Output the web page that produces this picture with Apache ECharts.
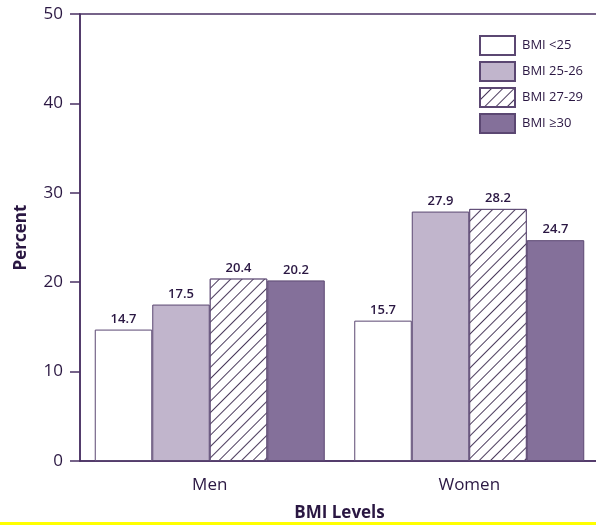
<!DOCTYPE html>
<html>
<head>
<meta charset="utf-8">
<script src="https://cdn.jsdelivr.net/npm/echarts@6/dist/echarts.min.js"></script>
<style>
html,body{margin:0;padding:0;background:#fff;}
#c{width:596px;height:525px;}
</style>
</head>
<body>
<div id="c"></div>
<script>
var categories = ['Men', 'Women'];
var seriesNames = ['BMI <25', 'BMI 25-26', 'BMI 27-29', 'BMI \u226530'];
var bmiUnder25 = [14.7, 15.7];
var bmi25to26 = [17.5, 27.9];
var bmi27to29 = [20.4, 28.2];
var bmi30plus = [20.2, 24.7];
var yTicks = [0, 10, 20, 30, 40, 50];

var FONT = '"Open Sans", sans-serif';
var TXT = '#2a1742';
var AX = '#4a3163';
var BORDER = '#5b4772';

var chart = echarts.init(document.getElementById('c'), null, {renderer: 'canvas'});

function mk(name, data, color, decal) {
  var s = {
    name: name,
    type: 'bar',
    data: data,
    barWidth: 57.5,
    barGap: '0%',
    itemStyle: {color: color, borderColor: BORDER, borderWidth: 1},
    label: {
      show: true, position: 'top', distance: 4,
      fontFamily: FONT, fontSize: 13, fontWeight: 600, color: TXT,
      formatter: function (p) { return p.value.toFixed(1); }
    }
  };
  if (decal) s.itemStyle.decal = decal;
  return s;
}

var hatch = {
  symbol: 'rect', symbolSize: 1,
  color: '#4a3a5c', backgroundColor: '#ffffff',
  dashArrayX: [1, 0], dashArrayY: [1, 7],
  rotation: -Math.PI / 4
};

chart.setOption({
  animation: false,
  backgroundColor: '#ffffff',
  textStyle: {fontFamily: FONT},
  grid: {
    left: 80, top: 14, bottom: 64, right: -3,
    containLabel: false, outerBoundsMode: 'none',
    show: true, borderColor: AX, borderWidth: 1.5, backgroundColor: 'transparent'
  },
  legend: {
    orient: 'vertical', left: 479, top: 35, padding: 0,
    itemWidth: 35, itemHeight: 19, itemGap: 5,
    icon: 'rect',
    textStyle: {fontFamily: FONT, fontSize: 13, color: TXT, padding: [0, 0, 0, 2]},
    data: seriesNames
  },
  xAxis: {
    type: 'category', data: categories,
    name: 'BMI Levels', nameLocation: 'middle', nameGap: 44,
    nameTextStyle: {fontFamily: FONT, fontSize: 17, fontWeight: 'bold', color: TXT},
    axisLine: {lineStyle: {color: AX, width: 1.5}},
    axisTick: {show: false},
    axisLabel: {fontFamily: FONT, fontSize: 17, color: TXT, margin: 16}
  },
  yAxis: {
    type: 'value', min: yTicks[0], max: yTicks[yTicks.length - 1], interval: 10,
    name: 'Percent', nameLocation: 'middle', nameGap: 50,
    nameTextStyle: {fontFamily: FONT, fontSize: 17, fontWeight: 'bold', color: TXT},
    axisLine: {show: true, lineStyle: {color: AX, width: 1.5}},
    axisTick: {show: true, length: 10, lineStyle: {color: AX, width: 1.5}},
    splitLine: {show: false},
    axisLabel: {fontFamily: FONT, fontSize: 17, color: TXT, margin: 17}
  },
  series: [
    mk(seriesNames[0], bmiUnder25, '#ffffff'),
    mk(seriesNames[1], bmi25to26, '#c1b5cc'),
    mk(seriesNames[2], bmi27to29, '#ffffff', hatch),
    mk(seriesNames[3], bmi30plus, '#84709a')
  ],
  graphic: [{
    type: 'rect', left: 0, top: 522, z: 100,
    shape: {width: 596, height: 3},
    style: {fill: '#ffff00'}
  }]
});
</script>
</body>
</html>
